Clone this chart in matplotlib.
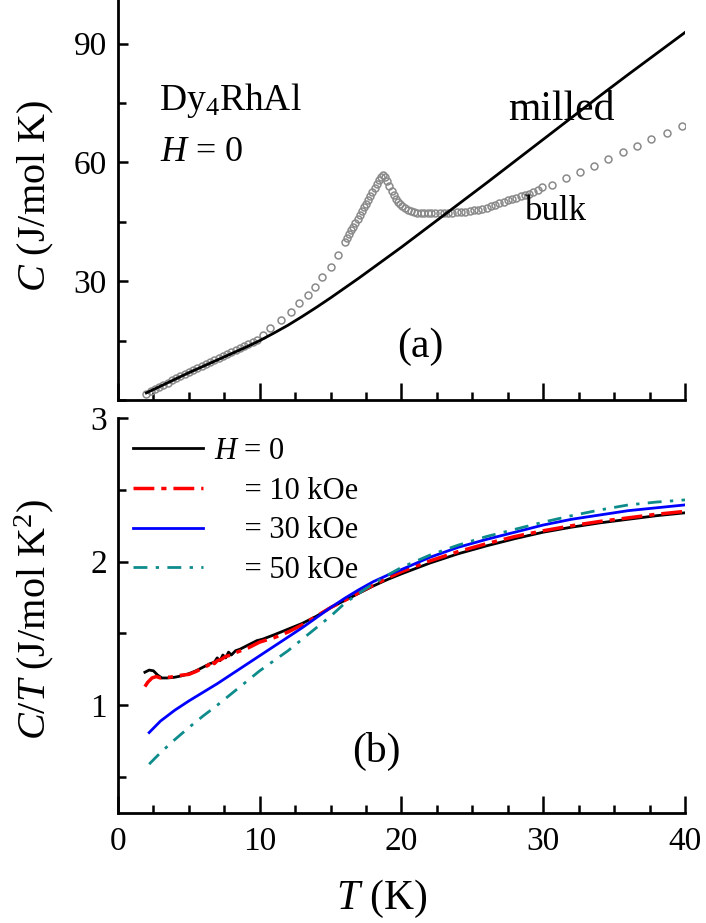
import matplotlib
matplotlib.use("Agg")
import matplotlib.pyplot as plt
from matplotlib.ticker import MultipleLocator

plt.rcParams['font.family'] = ['Liberation Serif', 'DejaVu Serif']
plt.rcParams['mathtext.fontset'] = 'custom'
plt.rcParams['mathtext.rm'] = 'Liberation Serif'
plt.rcParams['mathtext.it'] = 'Liberation Serif:italic'

# (a) C vs T, H = 0
T_milled = [2, 3, 4, 5, 6, 7, 8, 9, 10, 11, 12, 13, 14, 15, 16, 17, 18, 19, 20,
            21, 22, 23, 24, 25, 26, 28, 30, 32, 34, 36, 38, 40]
C_milled = [1.8, 3.5, 5.2, 6.9, 8.5, 10.1, 11.7, 13.3, 15.0, 16.9, 18.9, 21.1, 23.4,
            25.8, 28.3, 30.8, 33.4, 36.0, 38.6, 41.3, 44.0, 46.7, 49.4, 52.1, 54.8,
            60.3, 65.8, 71.3, 76.8, 82.2, 87.5, 92.8]

T_bulk = [2.0, 2.3, 2.6, 2.9, 3.2, 3.5, 3.8, 4.1, 4.4, 4.7, 5.0, 5.3, 5.6, 5.9, 6.2,
          6.5, 6.8, 7.1, 7.4, 7.7, 8.0, 8.3, 8.6, 8.9, 9.2, 9.5, 9.8, 10.2, 10.7,
          11.5, 12.2, 12.8, 13.4, 13.9, 14.4, 15.0, 15.5, 16.0, 16.15, 16.3, 16.45,
          16.6, 16.75, 16.9, 17.05, 17.2, 17.35, 17.5, 17.65, 17.8, 17.95, 18.1,
          18.25, 18.4, 18.55, 18.7, 18.85, 19.0, 19.15, 19.3, 19.45, 19.6, 19.75,
          19.9, 20.05, 20.25, 20.45, 20.65, 20.85, 21.1, 21.35, 21.6, 21.85, 22.1,
          22.4, 22.7, 23.0, 23.3, 23.6, 23.9, 24.2, 24.5, 24.8, 25.1, 25.4, 25.7,
          26.0, 26.3, 26.6, 26.9, 27.2, 27.5, 27.8, 28.1, 28.4, 28.7, 29.0, 29.3,
          29.6, 29.9, 30.6, 31.6, 32.6, 33.6, 34.6, 35.6, 36.6, 37.6, 38.7, 39.8]
C_bulk = [1.6, 2.2, 2.8, 3.3, 3.9, 4.4, 5.0, 5.6, 6.1, 6.6, 7.1, 7.6, 8.1, 8.6, 9.1,
          9.6, 10.1, 10.6, 11.1, 11.6, 12.1, 12.6, 13.1, 13.6, 14.1, 14.6, 15.2, 16.3,
          18.1, 20.2, 22.3, 24.4, 26.5, 28.6, 31.1, 33.6, 36.6, 39.9, 40.9, 41.9,
          42.9, 43.8, 44.8, 45.8, 46.7, 47.7, 48.7, 49.6, 50.6, 51.6, 52.5, 53.5,
          54.5, 55.5, 56.3, 56.7, 56.4, 55.3, 54.0, 52.8, 51.7, 50.8, 50.0, 49.4,
          48.9, 48.4, 48.0, 47.7, 47.5, 47.3, 47.2, 47.1, 47.1, 47.1, 47.1, 47.2,
          47.2, 47.3, 47.3, 47.4, 47.5, 47.6, 47.7, 47.9, 48.1, 48.3, 48.6, 48.9,
          49.3, 49.7, 50.1, 50.5, 50.8, 51.1, 51.4, 51.7, 52.1, 52.6, 53.1, 53.7,
          54.4, 56.0, 57.6, 59.2, 60.9, 62.5, 64.1, 65.8, 67.5, 69.2]

# (b) C/T vs T for several fields
T_h0 = [1.9, 2.2, 2.5, 2.8, 3.1, 3.5, 4.0, 4.5, 5.0, 5.5, 6.0, 6.5, 6.8, 7.0, 7.2,
        7.4, 7.6, 7.8, 8.0, 8.3, 8.6, 9.0, 9.4, 9.8, 10.2, 11, 12, 13, 14, 15, 16,
        17, 18, 19, 20, 22, 24, 26, 28, 30, 32, 34, 36, 38, 40]
CT_h0 = [1.23, 1.245, 1.24, 1.21, 1.19, 1.19, 1.195, 1.205, 1.22, 1.24, 1.265, 1.29,
         1.30, 1.33, 1.31, 1.35, 1.33, 1.37, 1.35, 1.38, 1.39, 1.41, 1.43, 1.45,
         1.46, 1.49, 1.53, 1.57, 1.62, 1.68, 1.73, 1.78, 1.83, 1.875, 1.915, 1.99,
         2.055, 2.11, 2.16, 2.205, 2.24, 2.27, 2.295, 2.32, 2.34]

T_h10 = [1.9, 2.1, 2.4, 2.7, 3.0, 3.3, 3.6, 4.0, 4.5, 5.0, 5.5, 6.0, 6.4, 6.6, 6.8,
         7.0, 7.3, 7.6, 8.0, 8.4, 8.8, 9.2, 9.6, 10, 11, 12, 13, 14, 15, 16, 17, 18,
         19, 20, 22, 24, 26, 28, 30, 32, 34, 36, 38, 40]
CT_h10 = [1.13, 1.16, 1.19, 1.2, 1.19, 1.2, 1.195, 1.2, 1.21, 1.215, 1.235, 1.26,
          1.28, 1.32, 1.29, 1.31, 1.32, 1.34, 1.35, 1.37, 1.385, 1.40, 1.42, 1.44,
          1.47, 1.51, 1.56, 1.62, 1.68, 1.73, 1.785, 1.835, 1.885, 1.93, 2.005,
          2.07, 2.125, 2.175, 2.215, 2.25, 2.28, 2.305, 2.33, 2.35]

T_h30 = [2.2, 3, 4, 5, 6, 7, 8, 9, 10, 11, 12, 13, 14, 15, 16, 17, 18, 19, 20, 22,
         24, 26, 28, 30, 32, 34, 36, 38, 40]
CT_h30 = [0.81, 0.89, 0.965, 1.03, 1.09, 1.15, 1.215, 1.28, 1.345, 1.41, 1.475,
          1.54, 1.61, 1.68, 1.745, 1.805, 1.86, 1.905, 1.945, 2.03, 2.10, 2.155,
          2.205, 2.255, 2.295, 2.325, 2.355, 2.375, 2.395]

T_h50 = [2.2, 3, 4, 5, 6, 7, 8, 9, 10, 11, 12, 13, 14, 15, 16, 17, 18, 19, 20, 22,
         24, 26, 28, 30, 32, 34, 36, 38, 40]
CT_h50 = [0.59, 0.67, 0.76, 0.845, 0.925, 1.0, 1.08, 1.16, 1.24, 1.31, 1.38, 1.46,
          1.54, 1.62, 1.71, 1.78, 1.845, 1.905, 1.96, 2.045, 2.115, 2.175, 2.225,
          2.275, 2.32, 2.36, 2.395, 2.415, 2.43]

fig = plt.figure(figsize=(7.06, 9.23), dpi=100)
ax1 = fig.add_axes([0.1671, 0.5666, 0.8031, 0.4334])
ax2 = fig.add_axes([0.1671, 0.1192, 0.8031, 0.4279])

for ax in (ax1, ax2):
    ax.spines['top'].set_visible(False)
    ax.spines['right'].set_visible(False)
    ax.spines['left'].set_linewidth(2)
    ax.spines['bottom'].set_linewidth(2)
    ax.set_xlim(0, 40)
    ax.xaxis.set_major_locator(MultipleLocator(10))
    ax.xaxis.set_minor_locator(MultipleLocator(2.5))
    ax.tick_params(axis='x', which='major', direction='in', length=12, width=1.8,
                   labelsize=24, pad=10)
    ax.tick_params(axis='x', which='minor', direction='in', length=6, width=1.8)
    ax.tick_params(axis='y', which='major', direction='in', length=7, width=1.8,
                   labelsize=24, pad=8)
    ax.tick_params(axis='y', which='minor', direction='in', length=5.5, width=1.8)

# top panel
ax1.plot(T_bulk, C_bulk, linestyle='none', marker='o', markersize=5,
         markerfacecolor='none', markeredgecolor='#8a8a8a', markeredgewidth=1.1)
ax1.plot(T_milled, C_milled, color='black', lw=2)
ax1.set_ylim(0, 101)
ax1.yaxis.set_minor_locator(MultipleLocator(15))
ax1.set_yticks([30, 60, 90])
ax1.tick_params(axis='x', labelbottom=False)
ax1.set_ylabel('$C$ (J/mol K)', fontsize=29)
ax1.yaxis.set_label_coords(-0.11, 0.51)

ax1.text(2.9, 75.5, 'Dy$_4$RhAl', fontsize=27, ha='left', va='center')
ax1.text(3.0, 62.6, '$H$ = 0', fontsize=26, ha='left', va='center')
ax1.text(31.3, 73.4, 'milled', fontsize=30, ha='center', va='center')
ax1.text(30.9, 47.5, 'bulk', fontsize=25, ha='center', va='center')
ax1.text(21.3, 13.5, '(a)', fontsize=30, ha='center', va='center')

# bottom panel
ax2.plot(T_h0, CT_h0, color='black', lw=2, label='$H$ = 0')
ax2.plot(T_h10, CT_h10, color='#ff0000', lw=2.5, dashes=(6, 2, 1.5, 2),
         label='    = 10 kOe')
ax2.plot(T_h30, CT_h30, color='#0000ff', lw=2, label='    = 30 kOe')
ax2.plot(T_h50, CT_h50, color='#0e8c8c', lw=2, dashes=(5, 3, 1.2, 3),
         label='    = 50 kOe')
ax2.set_ylim(0.25, 3.0)
ax2.yaxis.set_major_locator(MultipleLocator(1))
ax2.yaxis.set_minor_locator(MultipleLocator(0.5))
ax2.set_ylabel('$C$/$T$ (J/mol K$^2$)', fontsize=29)
ax2.yaxis.set_label_coords(-0.11, 0.49)
ax2.set_xlabel('$T$ (K)', fontsize=30)
ax2.xaxis.set_label_coords(0.465, -0.165)
ax2.text(18.2, 0.676, '(b)', fontsize=30, ha='center', va='center')

ax2.legend(loc='upper left', bbox_to_anchor=(0.01, 0.975), frameon=False,
           fontsize=22, handlelength=2.3, handletextpad=0.35, labelspacing=0.35,
           borderaxespad=0.1, borderpad=0.2)

fig.savefig('out.png', dpi=100)
